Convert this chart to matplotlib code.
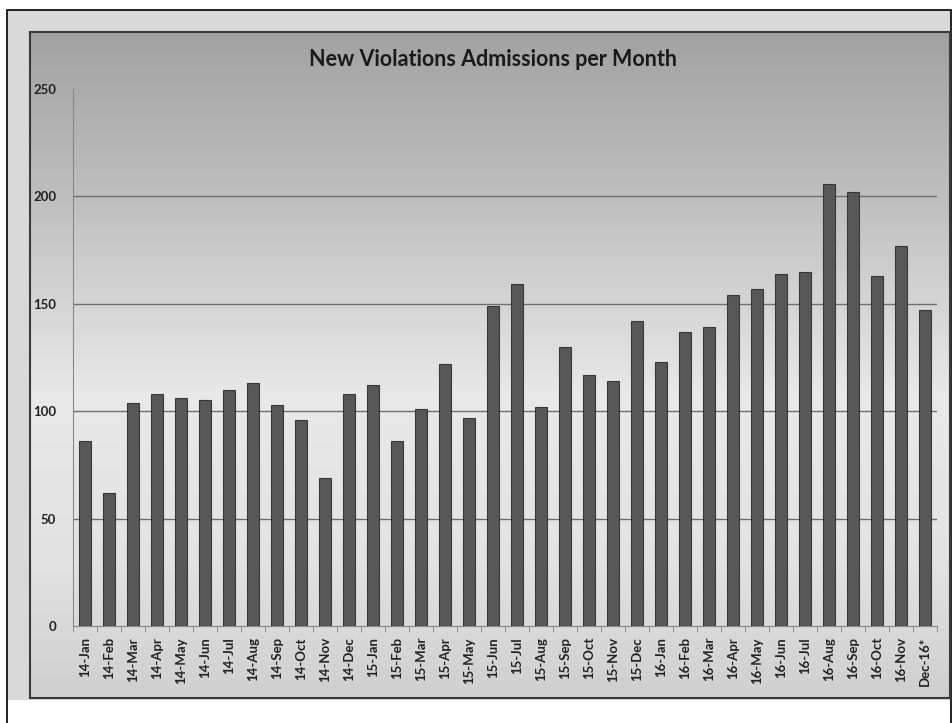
import numpy as np
import matplotlib.pyplot as plt
from matplotlib.patches import Rectangle
from matplotlib.colors import LinearSegmentedColormap

months = ["14-Jan", "14-Feb", "14-Mar", "14-Apr", "14-May", "14-Jun", "14-Jul", "14-Aug",
          "14-Sep", "14-Oct", "14-Nov", "14-Dec", "15-Jan", "15-Feb", "15-Mar", "15-Apr",
          "15-May", "15-Jun", "15-Jul", "15-Aug", "15-Sep", "15-Oct", "15-Nov", "15-Dec",
          "16-Jan", "16-Feb", "16-Mar", "16-Apr", "16-May", "16-Jun", "16-Jul", "16-Aug",
          "16-Sep", "16-Oct", "16-Nov", "Dec-16*"]
admissions = [86, 62, 104, 108, 106, 105, 110, 113, 103, 96, 69, 108, 112, 86, 101, 122,
              97, 149, 159, 102, 130, 117, 114, 142, 123, 137, 139, 154, 157, 164, 165, 206,
              202, 163, 177, 147]
yticks = [0, 50, 100, 150, 200, 250]

plt.rcParams['font.family'] = ['Lato', 'DejaVu Sans']

fig = plt.figure(figsize=(9.53, 7.23), dpi=100)
W, H = 953, 723

def fx(px):
    return px / W

def fy(py):
    return 1 - py / H

# outer frame and light band
fig.patches.append(Rectangle((fx(7), fy(740)), fx(944), (740 - 10) / H,
                             transform=fig.transFigure, facecolor="#d9d9d9",
                             edgecolor="black", lw=1.2, zorder=-3))
fig.patches.append(Rectangle((fx(8), 0), fx(942), fy(700),
                             transform=fig.transFigure, facecolor="white",
                             edgecolor="none", zorder=-2))

# gradient panel
bg = fig.add_axes([fx(30), fy(698), fx(920), (698 - 32) / H])
bg.set_zorder(0)
stops = LinearSegmentedColormap.from_list(
    "panel", [(0.0, "#a2a2a2"), (0.25, "#bfbfbf"), (0.55, "#e9e9e9"),
              (0.8, "#e2e2e2"), (1.0, "#cfcfcf")])
grad = np.linspace(0, 1, 256).reshape(-1, 1)
bg.imshow(grad, aspect="auto", cmap=stops, extent=[0, 1, 1, 0])
bg.set_xticks([])
bg.set_yticks([])
for s in bg.spines.values():
    s.set_color("#3a3a3a")
    s.set_linewidth(1.5)

ax = fig.add_axes([fx(73), fy(626), fx(937 - 73), (626 - 89) / H])
ax.set_zorder(1)
ax.patch.set_alpha(0)

x = np.arange(len(months))
ax.bar(x, admissions, width=0.46, color="#575757", edgecolor="#383838", lw=0.8, zorder=3)

ax.set_xlim(-0.5, len(months) - 0.5)
ax.set_ylim(0, 250)
ax.set_yticks(yticks)
ax.set_yticklabels([str(t) for t in yticks], fontsize=9.5, fontweight="bold", color="#222222")
for t in yticks[1:-1]:
    ax.axhline(t, color="#6e6e6e", lw=1.0, zorder=1)

ax.set_xticks(x)
ax.set_xticklabels(months, rotation=90, fontsize=9.5, fontweight="bold", color="#222222")
ax.set_xticks(np.arange(-0.5, len(months), 1), minor=True)
ax.tick_params(axis="x", which="major", length=0, pad=8)
ax.tick_params(axis="x", which="minor", length=4, color="#888888")
ax.tick_params(axis="y", length=0, pad=12)

for side in ["top", "right"]:
    ax.spines[side].set_visible(False)
ax.spines["left"].set_color("#888888")
ax.spines["bottom"].set_color("#888888")

fig.text(fx(493), fy(60), "New Violations Admissions per Month", ha="center", va="center",
         fontsize=15.5, fontweight="bold", color="#1a1a1a")

fig.savefig("out.png", dpi=100)
